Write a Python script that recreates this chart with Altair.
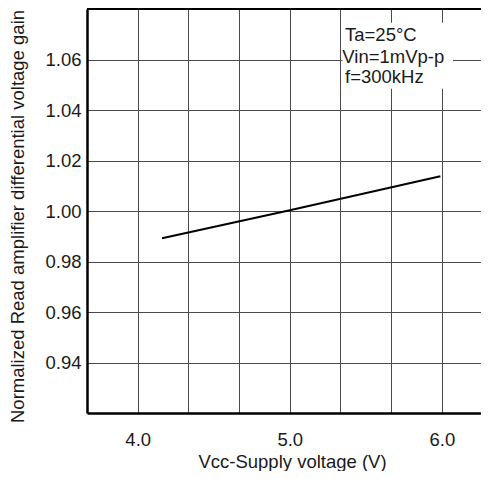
import altair as alt
import pandas as pd

# data
vcc = [4.16, 5.0, 5.99]
gain = [0.9892, 1.0003, 1.0138]
x_grid = [4.0, 4.3333, 4.6667, 5.0, 5.3333, 5.6667, 6.0]
y_ticks = [0.94, 0.96, 0.98, 1.00, 1.02, 1.04, 1.06]
note_lines = ["Ta=25°C", "Vin=1mVp-p", "f=300kHz"]
note_y = [1.0673, 1.0587, 1.0506]
note_x = [5.3630, 5.3450, 5.3630]
box = {"x": 5.346, "x2": 6.073, "y": 1.0484, "y2": 1.0746}

FONT = "Liberation Sans"
FS = 18.5
XDOM = [3.6667, 6.257]
YDOM = [0.92, 1.08]

df = pd.DataFrame({"vcc": vcc, "gain": gain})
notes = pd.DataFrame({"t": note_lines, "y": note_y, "x": note_x})
boxdf = pd.DataFrame([box])

xs = alt.Scale(domain=XDOM, nice=False, zero=False)
ys = alt.Scale(domain=YDOM, nice=False, zero=False)

xaxis = alt.Axis(
    values=x_grid,
    labelExpr="abs(datum.value - round(datum.value)) < 0.01 ? format(datum.value, '.1f') : ''",
    grid=True, gridColor="#4a4a4a", gridWidth=1,
    ticks=False, domain=True, domainColor="black", domainWidth=2.5,
    labelFont=FONT, labelFontSize=FS, labelColor="#1a1a1a",
    labelBaseline="alphabetic", labelPadding=32,
    title="Vcc-Supply voltage (V)", titleFont=FONT, titleFontSize=FS,
    titleFontWeight="normal", titleColor="#1a1a1a",
    titleX=205, titleY=54, titleAlign="center", titleBaseline="alphabetic",
)
yaxis = alt.Axis(
    values=y_ticks, format=".2f",
    grid=True, gridColor="#4a4a4a", gridWidth=1,
    ticks=False, domain=True, domainColor="black", domainWidth=2.5,
    labelFont=FONT, labelFontSize=FS, labelColor="#1a1a1a", labelPadding=6,
    title="Normalized Read amplifier differential voltage gain",
    titleFont=FONT, titleFontSize=FS, titleFontWeight="normal",
    titleColor="#1a1a1a", titleAngle=270,
    titleX=-64, titleY=207, titleAlign="center", titleBaseline="alphabetic",
)

line = alt.Chart(df).mark_line(color="black", strokeWidth=2).encode(
    x=alt.X("vcc:Q", scale=xs, axis=xaxis),
    y=alt.Y("gain:Q", scale=ys, axis=yaxis),
)

rect = alt.Chart(boxdf).mark_rect(color="white").encode(
    x=alt.X("x:Q", scale=xs), x2="x2:Q",
    y=alt.Y("y:Q", scale=ys), y2="y2:Q",
)

text = alt.Chart(notes).mark_text(
    align="left", baseline="alphabetic", font=FONT, fontSize=FS, color="#1a1a1a"
).encode(
    x=alt.X("x:Q", scale=xs), y=alt.Y("y:Q", scale=ys), text="t:N"
)

top = alt.Chart(df).mark_rule(color="black", strokeWidth=2).encode(y=alt.value(0))

chart = alt.layer(rect, line, text, top).properties(
    width=394, height=404,
    autosize=alt.AutoSizeParams(type="none"),
    padding={"left": 79, "top": 1, "right": 0, "bottom": 58},
).configure_view(stroke=None)

chart.save("out.html", embed_options={"renderer": "svg", "actions": False})
